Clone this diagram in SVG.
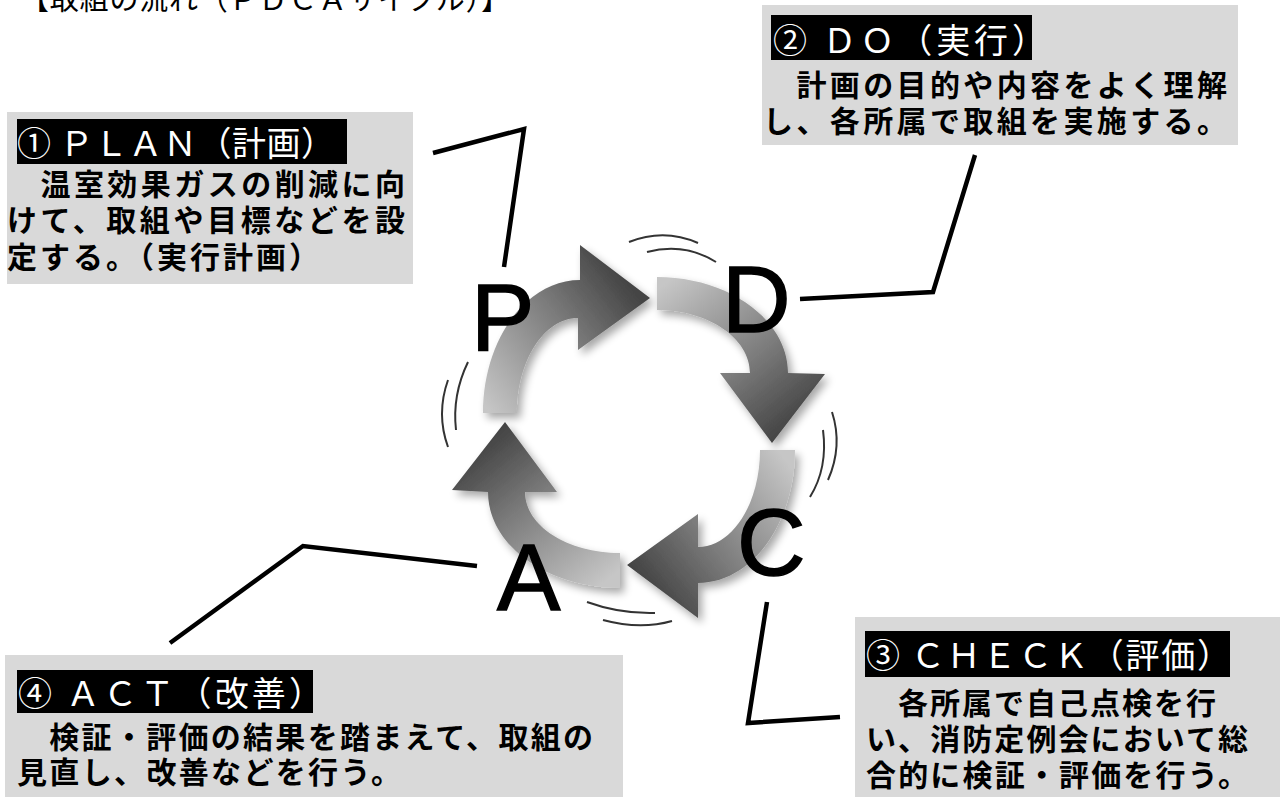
<svg xmlns="http://www.w3.org/2000/svg" width="1283" height="800" viewBox="0 0 1283 800">
<style>
.box{fill:#d9d9d9}
.lab{fill:#000}
.hd{font-family:"Noto Sans CJK JP",sans-serif;font-size:34px;fill:#fff}
.bd{font-family:"Noto Sans CJK JP",sans-serif;font-size:30px;font-weight:bold;fill:#000}
.ttl{font-family:"Liberation Serif","Noto Sans CJK JP",serif;font-size:29px;fill:#000}
.big{font-family:"Liberation Sans",Arial,sans-serif;font-size:95px;fill:#000;stroke:#000;stroke-width:1.5}
.con{fill:none;stroke:#000;stroke-width:4.5;stroke-linejoin:miter}
.sw{fill:none;stroke:#333;stroke-width:2}
</style>
<defs>
<linearGradient id="gP" gradientUnits="userSpaceOnUse" x1="490" y1="413" x2="640" y2="298"><stop offset="0" stop-color="#c6c6c6"/><stop offset="0.6" stop-color="#7a7a7a"/><stop offset="1" stop-color="#444"/></linearGradient>
<linearGradient id="gD" gradientUnits="userSpaceOnUse" x1="657" y1="290" x2="775" y2="440"><stop offset="0" stop-color="#c6c6c6"/><stop offset="0.6" stop-color="#7a7a7a"/><stop offset="1" stop-color="#444"/></linearGradient>
<linearGradient id="gC" gradientUnits="userSpaceOnUse" x1="778" y1="450" x2="630" y2="565"><stop offset="0" stop-color="#c6c6c6"/><stop offset="0.6" stop-color="#7a7a7a"/><stop offset="1" stop-color="#444"/></linearGradient>
<linearGradient id="gA" gradientUnits="userSpaceOnUse" x1="620" y1="570" x2="505" y2="425"><stop offset="0" stop-color="#c6c6c6"/><stop offset="0.6" stop-color="#7a7a7a"/><stop offset="1" stop-color="#444"/></linearGradient>
<filter id="sh" x="-20%" y="-20%" width="140%" height="140%">
<feGaussianBlur in="SourceAlpha" stdDeviation="4"/>
<feOffset dx="4" dy="5" result="b"/>
<feComponentTransfer><feFuncA type="linear" slope="0.35"/></feComponentTransfer>
<feMerge><feMergeNode/><feMergeNode in="SourceGraphic"/></feMerge>
</filter>
</defs>
<rect width="1283" height="800" fill="#fff"/>
<text class="ttl" x="20" y="10" textLength="490" lengthAdjust="spacing">【取組の流れ（ＰＤＣＡサイクル）】</text>

<g id="connectors">
<polyline class="con" points="433,153 524,129 504,267"/>
<polyline class="con" points="975,155 933,292 800,299"/>
<polyline class="con" points="767,602 748,723 840,717"/>
<polyline class="con" points="170,643 303,546 477,566"/>
</g>

<g id="cycle">
<g filter="url(#sh)">
<path fill="url(#gP)" d="M483,413 C483,340 526,280 580,280 L580,245 L650,298 L578,350 L578,318 C544,318 517,361 517,413 Z"/>
<path fill="url(#gD)" d="M657,277 C729,277 788,320 788,373 L825,374 L772,443 L720,373 L750,373 C750,338 708,310 657,310 Z"/>
<path fill="url(#gC)" d="M795,450 C795,523 752,583 698,583 L698,618 L627,565 L698,514 L698,547 C732,547 760,504 760,450 Z"/>
<path fill="url(#gA)" d="M620,588 C547,588 488,545 488,492 L452,490 L505,422 L557,492 L525,492 C525,526 568,553 620,553 Z"/>
</g>
<path class="sw" d="M629,242 Q664,228 698,243"/>
<path class="sw" d="M647,252 Q684,242 716,262"/>
<path class="sw" d="M832,412 Q843,446 828,480"/>
<path class="sw" d="M823,430 Q828,468 810,497"/>
<path class="sw" d="M468,362 Q452,395 456,430"/>
<path class="sw" d="M448,380 Q436,414 448,447"/>
<path class="sw" d="M587,602 Q620,614 655,613"/>
<path class="sw" d="M603,620 Q640,630 672,621"/>
<text class="big" x="471" y="350">P</text>
<text class="big" x="722" y="332">D</text>
<text class="big" x="737" y="575">C</text>
<text class="big" x="497" y="610">A</text>
</g>

<g id="plan">
<rect class="box" x="7" y="112" width="406" height="172"/>
<rect class="lab" x="17" y="119" width="330" height="45"/>
<text class="hd" x="17" y="156" textLength="318" lengthAdjust="spacing">① ＰＬＡＮ（計画）</text>
<text class="bd" x="7" y="195" textLength="398" lengthAdjust="spacing">　温室効果ガスの削減に向</text>
<text class="bd" x="7" y="231" textLength="398" lengthAdjust="spacing">けて、取組や目標などを設</text>
<text class="bd" x="7" y="268" textLength="312" lengthAdjust="spacing">定する。（実行計画）</text>
</g>

<g id="do">
<rect class="box" x="762" y="5" width="476" height="140"/>
<rect class="lab" x="771" y="15" width="261" height="45"/>
<text class="hd" x="773" y="53" textLength="273" lengthAdjust="spacing">② ＤＯ（実行）</text>
<text class="bd" x="763" y="96" textLength="464" lengthAdjust="spacing">　計画の目的や内容をよく理解</text>
<text class="bd" x="763" y="132" textLength="464" lengthAdjust="spacing">し、各所属で取組を実施する。</text>
</g>

<g id="check">
<rect class="box" x="855" y="617" width="425" height="180"/>
<rect class="lab" x="865" y="631" width="365" height="46"/>
<text class="hd" x="866" y="668" textLength="365" lengthAdjust="spacing">③ ＣＨＥＣＫ（評価）</text>
<text class="bd" x="866" y="714" textLength="350" lengthAdjust="spacing">　各所属で自己点検を行</text>
<text class="bd" x="866" y="750" textLength="382" lengthAdjust="spacing">い、消防定例会において総</text>
<text class="bd" x="866" y="786" textLength="382" lengthAdjust="spacing">合的に検証・評価を行う。</text>
</g>

<g id="act">
<rect class="box" x="5" y="655" width="618" height="142"/>
<rect class="lab" x="17" y="670" width="296" height="43"/>
<text class="hd" x="18" y="706" textLength="305" lengthAdjust="spacing">④ ＡＣＴ（改善）</text>
<text class="bd" x="17" y="748" textLength="576" lengthAdjust="spacing">　検証・評価の結果を踏まえて、取組の</text>
<text class="bd" x="17" y="783" textLength="384" lengthAdjust="spacing">見直し、改善などを行う。</text>
</g>
</svg>
